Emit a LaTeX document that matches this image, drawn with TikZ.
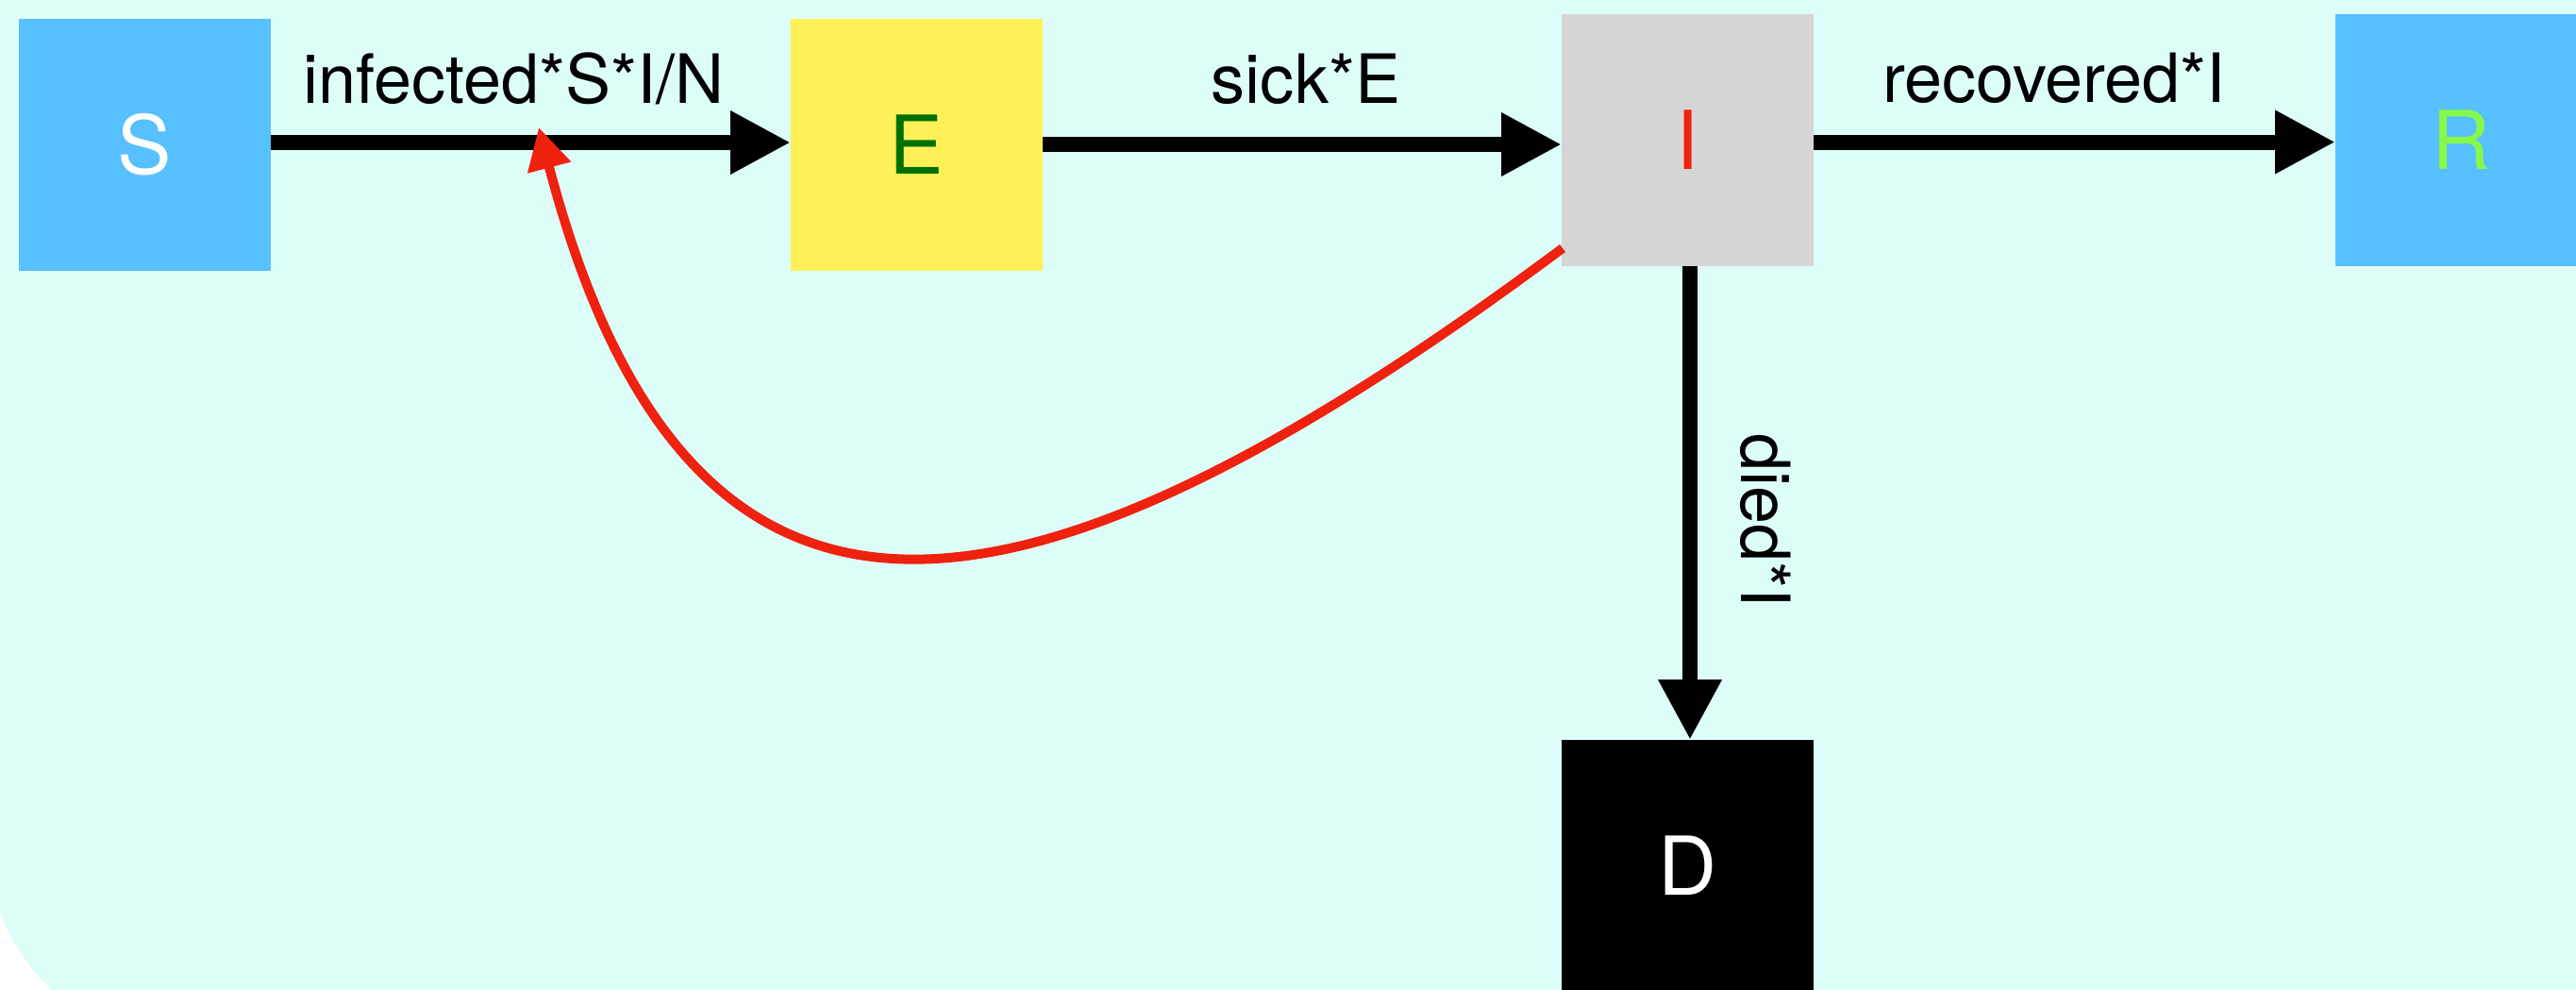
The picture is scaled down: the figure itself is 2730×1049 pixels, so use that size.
\documentclass[tikz,border=0pt]{standalone}
\usepackage{fontspec}
\setmainfont{TeX Gyre Heros}
\usetikzlibrary{arrows.meta,calc}
\definecolor{bgcyan}{RGB}{221,253,248}
\definecolor{boxblue}{RGB}{87,192,255}
\definecolor{boxyellow}{RGB}{255,240,87}
\definecolor{boxgray}{RGB}{213,213,213}
\definecolor{darkgreen}{RGB}{0,112,0}
\definecolor{lightgreen}{RGB}{134,248,74}
\definecolor{flowred}{RGB}{238,34,15}
\begin{document}
\begin{tikzpicture}[x=0.5pt,y=-0.5pt,
  compartment/.style={minimum size=133.5pt, inner sep=0pt, outer sep=0pt,
    font=\fontsize{43}{50}\selectfont},
  flow/.style={line width=8pt, draw=black,
    -{Triangle[length=32pt,width=31.5pt]}},
  feedback/.style={line width=5pt, draw=flowred,
    -{Triangle[length=22pt,width=22.5pt]}},
  rate/.style={font=\fontsize{36}{42}\selectfont, anchor=base, inner sep=0pt}]
\useasboundingbox (0,0) rectangle (2730,1049);
% panel background with its rounded lower left corner
\begin{scope}
  \clip (0,0) rectangle (2730,1049);
  \fill[bgcyan, rounded corners=112.5pt] (-15,-600) rectangle (3400,1111);
\end{scope}
% compartments
\node[compartment, fill=boxblue, text=white] (S) at (153.5,153.5) {S};
\node[compartment, fill=boxyellow, text=darkgreen] (E) at (971.5,153.5) {E};
\node[compartment, fill=boxgray, text=flowred] (I) at (1788.5,148.5) {I};
\node[compartment, fill=boxblue, text=lightgreen] (R) at (2608.5,148.5) {R};
\node[compartment, fill=black, text=white] (D) at (1788.5,917.5) {D};
% flows between compartments
\draw[flow] ([yshift=1.25pt]S.east) -- node[rate, pos=0.468, yshift=21pt] {infected*S*I/N} ([yshift=1.25pt]E.west);
\draw[flow] ([yshift=0.25pt]E.east) -- node[rate, pos=0.507, yshift=22pt] {sick*E} ([yshift=-2.25pt]I.west);
\draw[flow] ([yshift=-1pt]I.east) -- node[rate, pos=0.461, yshift=21pt] {recovered*I} ([yshift=-1pt]R.west);
\draw[flow] ([xshift=1.25pt]I.south) -- node[rate, pos=0.536, xshift=27pt, rotate=-90] {died*I} ([xshift=1.25pt]D.north);
% infectious feedback onto the S to E flow
\coordinate (fbstart) at (1656,263);
\coordinate (fbtip) at (571,135);
\draw[feedback] (fbstart) .. controls (1080,692) and (730,742) .. (fbtip);
\end{tikzpicture}
\end{document}
